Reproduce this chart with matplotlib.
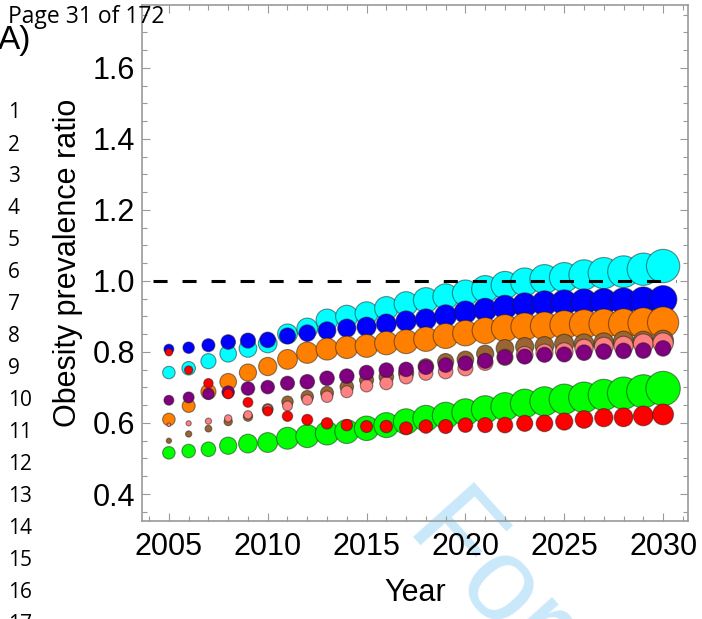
import matplotlib
matplotlib.use("Agg")
import matplotlib.pyplot as plt
from matplotlib.ticker import MultipleLocator
import numpy as np

# years and obesity prevalence ratio per group
years = list(range(2005, 2031))

cyan_vals = [0.742, 0.754, 0.774, 0.795, 0.810, 0.824, 0.851, 0.866, 0.890, 0.900, 0.909, 0.923, 0.936,
             0.946, 0.956, 0.966, 0.977, 0.988, 0.997, 1.005, 1.010, 1.017, 1.022, 1.026, 1.033, 1.042]
blue_vals = [0.808, 0.812, 0.819, 0.828, 0.832, 0.834, 0.845, 0.853, 0.860, 0.867, 0.871, 0.879, 0.887,
             0.892, 0.902, 0.912, 0.919, 0.926, 0.932, 0.937, 0.939, 0.941, 0.942, 0.943, 0.945, 0.948]
orange_vals = [0.610, 0.648, 0.688, 0.716, 0.742, 0.759, 0.779, 0.798, 0.808, 0.813, 0.817, 0.825, 0.829,
               0.836, 0.845, 0.853, 0.860, 0.867, 0.871, 0.873, 0.876, 0.878, 0.879, 0.879, 0.881, 0.883]
green_vals = [0.516, 0.521, 0.526, 0.536, 0.542, 0.545, 0.557, 0.563, 0.571, 0.576, 0.585, 0.594, 0.604,
              0.613, 0.621, 0.630, 0.638, 0.646, 0.655, 0.661, 0.667, 0.672, 0.679, 0.684, 0.689, 0.697]
brown_vals = [0.550, 0.569, 0.584, 0.604, 0.618, 0.639, 0.660, 0.674, 0.685, 0.702, 0.721, 0.730, 0.740,
              0.759, 0.773, 0.779, 0.795, 0.810, 0.815, 0.817, 0.823, 0.823, 0.826, 0.830, 0.829, 0.832]
pink_vals = [0.595, 0.599, 0.605, 0.613, 0.623, 0.639, 0.648, 0.665, 0.674, 0.688, 0.705, 0.712, 0.729,
             0.740, 0.745, 0.754, 0.770, 0.785, 0.792, 0.798, 0.801, 0.810, 0.815, 0.817, 0.823, 0.825]
purple_vals = [0.664, 0.672, 0.682, 0.687, 0.697, 0.701, 0.712, 0.716, 0.726, 0.732, 0.742, 0.749, 0.751,
               0.757, 0.763, 0.768, 0.775, 0.785, 0.787, 0.792, 0.793, 0.798, 0.801, 0.803, 0.804, 0.810]
red_vals = [0.799, 0.749, 0.712, 0.682, 0.658, 0.633, 0.619, 0.609, 0.599, 0.594, 0.590, 0.590, 0.585,
            0.590, 0.590, 0.594, 0.594, 0.594, 0.599, 0.599, 0.604, 0.610, 0.615, 0.616, 0.620, 0.624]

# bubble weights (relative diameter of each bubble)
cyan_w = [12, 13, 14.5, 16, 17, 18, 19, 20, 21, 21.5, 22, 22.5, 23, 24, 24.5, 25, 26, 26.5, 27, 28, 28.5, 29, 30, 30.5, 31, 32]
blue_w = [9.5, 11, 12.5, 14, 14.5, 15, 15.5, 16, 17, 17.5, 18.5, 19, 19.5, 20, 21, 21.5, 22, 23, 23.5, 24, 24.5, 25, 25, 25.5, 26, 26.5]
orange_w = [12, 12.5, 14.5, 16, 16.5, 17.5, 19, 20.5, 21, 21.5, 22, 22.5, 23, 23.5, 24, 24.5, 25, 26, 26.5, 27, 27.5, 28, 28.5, 29, 29.5, 30]
green_w = [12, 13, 14, 16.5, 18, 19, 21, 22, 22.5, 23, 23.5, 24, 24.5, 25, 25.5, 26, 26.5, 27, 27.5, 28, 29, 29.5, 30, 31, 32, 33]
brown_w = [5, 6, 6.5, 8, 9, 10.5, 11, 12, 12.5, 13, 13.5, 14, 14.5, 15, 15.5, 16, 16.5, 17, 17.5, 18, 18.5, 19, 19, 19.5, 20, 20]
pink_w = [3.5, 5, 6, 7, 8, 8.5, 9.5, 10, 11, 11.5, 12, 12.5, 13, 13.5, 14, 14.5, 15, 15.5, 16, 16.5, 17, 17.5, 18, 18.5, 19, 19.5]
purple_w = [9.5, 10.5, 11, 12, 13, 13, 13.5, 14, 14, 14, 14, 14, 14, 14, 14, 14, 14.5, 14.5, 14.5, 14.5, 14.5, 15, 15, 15, 15, 15]
red_w = [7, 8, 9, 9.5, 9.5, 9, 10, 10.5, 11, 11, 11.5, 12, 12.5, 13, 13.5, 14, 14.5, 15, 15.5, 16, 16.5, 17, 17.5, 18, 19, 20]

line_numbers = list(range(1, 18))

fig = plt.figure(figsize=(7.02, 6.19), dpi=100, facecolor="w")
ax = fig.add_axes([142 / 702, 1 - 521 / 619, 546 / 702, 516 / 619])
ax.set_facecolor("none")

series = [
    (cyan_vals, cyan_w, "#00ffff"),
    (blue_vals, blue_w, "#0000ff"),
    (orange_vals, orange_w, "#ff8000"),
    (green_vals, green_w, "#00ff00"),
    (brown_vals, brown_w, "#996633"),
    (pink_vals, pink_w, "#ff8080"),
    (purple_vals, purple_w, "#800080"),
    (red_vals, red_w, "#ff0000"),
]
for vals, w, col in series:
    s = (np.array(w) * 0.75) ** 2
    ax.scatter(years, vals, s=s, c=col, edgecolors=(0.1, 0.1, 0.1, 0.5), linewidths=0.8, zorder=3)

ref = ax.hlines(1.0, 2004.2, 2030.65, colors="black", linewidth=2.2, zorder=4)
ref.set_linestyle((0, (4.6, 4.9)))

ax.set_xlim(2003.64, 2031.26)
ax.set_ylim(0.324, 1.777)
ax.xaxis.set_major_locator(MultipleLocator(5))
ax.xaxis.set_minor_locator(MultipleLocator(1))
ax.yaxis.set_major_locator(MultipleLocator(0.2))
ax.yaxis.set_minor_locator(MultipleLocator(0.05))
ax.yaxis.set_major_formatter(plt.FuncFormatter(lambda v, p: "%.1f" % v))

gray = "#999999"
for sp in ax.spines.values():
    sp.set_color(gray)
    sp.set_linewidth(1.2)
ax.tick_params(which="both", direction="in", top=True, right=True, color=gray, width=0.8,
               labelsize=22, labelcolor="black")
ax.tick_params(which="major", length=6)
ax.tick_params(which="minor", length=3.6)
ax.tick_params(axis="x", which="major", pad=8)
ax.tick_params(axis="y", which="major", pad=5)
for lab in ax.get_xticklabels() + ax.get_yticklabels():
    lab.set_family("Liberation Sans")

ax.set_xlabel("Year", fontsize=22, family="Liberation Sans")
ax.set_ylabel("Obesity prevalence ratio", fontsize=22, family="Liberation Sans")
ax.xaxis.set_label_coords(0.5, -0.110)
ax.yaxis.set_label_coords(-0.108, 0.5)

# page furniture
fig.text(8 / 702, 1 - 23 / 619, "Page 31 of 172", fontsize=16.5, family="Open Sans",
         ha="left", va="baseline")
fig.text(-2 / 702, 1 - 49 / 619, "A)", fontsize=24, family="Liberation Sans",
         ha="left", va="baseline")
for i in line_numbers:
    fig.text(8 / 702, 1 - (111 + 32 * (i - 1) + 7.5) / 619, str(i), fontsize=15,
             family="Open Sans", ha="left", va="baseline")

fig.text(406 / 702, 1 - 529 / 619, "For Peer Review", fontsize=86, family="Liberation Sans",
         color="#c9e8f9", rotation=-48, rotation_mode="anchor", ha="left", va="baseline",
         zorder=-1)

plt.savefig("out.png", dpi=100, facecolor="w")
